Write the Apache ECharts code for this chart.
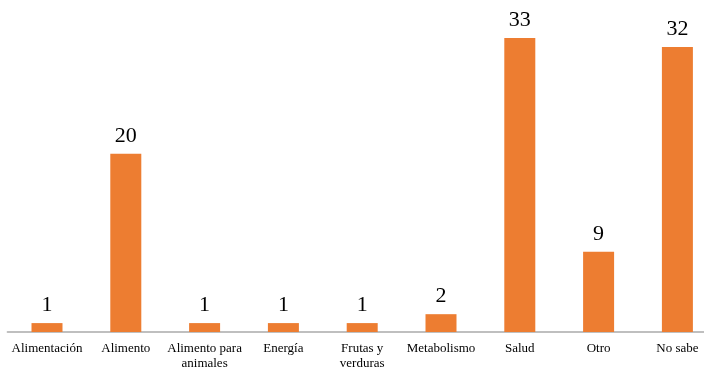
<!DOCTYPE html>
<html><head><meta charset="utf-8">
<script src="https://cdn.jsdelivr.net/npm/echarts@6/dist/echarts.min.js"></script>
<style>html,body{margin:0;padding:0;background:#fff}#c{width:704px;height:368px}</style>
</head><body><div id="c"></div>
<script>
const categories = ["Alimentación","Alimento","Alimento para\nanimales","Energía","Frutas y\nverduras","Metabolismo","Salud","Otro","No sabe"];
const values = [1,20,1,1,1,2,33,9,32];
const FONT = '"Liberation Serif", "Times New Roman", serif';
const chart = echarts.init(document.getElementById('c'), null, {renderer:'canvas'});
chart.setOption({
  animation:false,
  grid:{left:7.6, width:709.2, top:20.2, height:311.8, containLabel:false, outerBoundsMode:'none'},
  xAxis:{type:'category', data:categories,
    axisLine:{show:true, lineStyle:{color:'#BFBFBF', width:2}},
    axisTick:{show:false},
    axisLabel:{color:'#000', fontFamily:FONT, fontSize:13, margin:9, lineHeight:15, interval:0}},
  yAxis:{type:'value', min:0, max:35, show:false, splitLine:{show:false}},
  series:[{type:'bar', data:values, barWidth:31, itemStyle:{color:'#ED7D31'},
    label:{show:true, position:'top', distance:7, color:'#000', fontFamily:FONT, fontSize:22}}]
});
</script></body></html>
